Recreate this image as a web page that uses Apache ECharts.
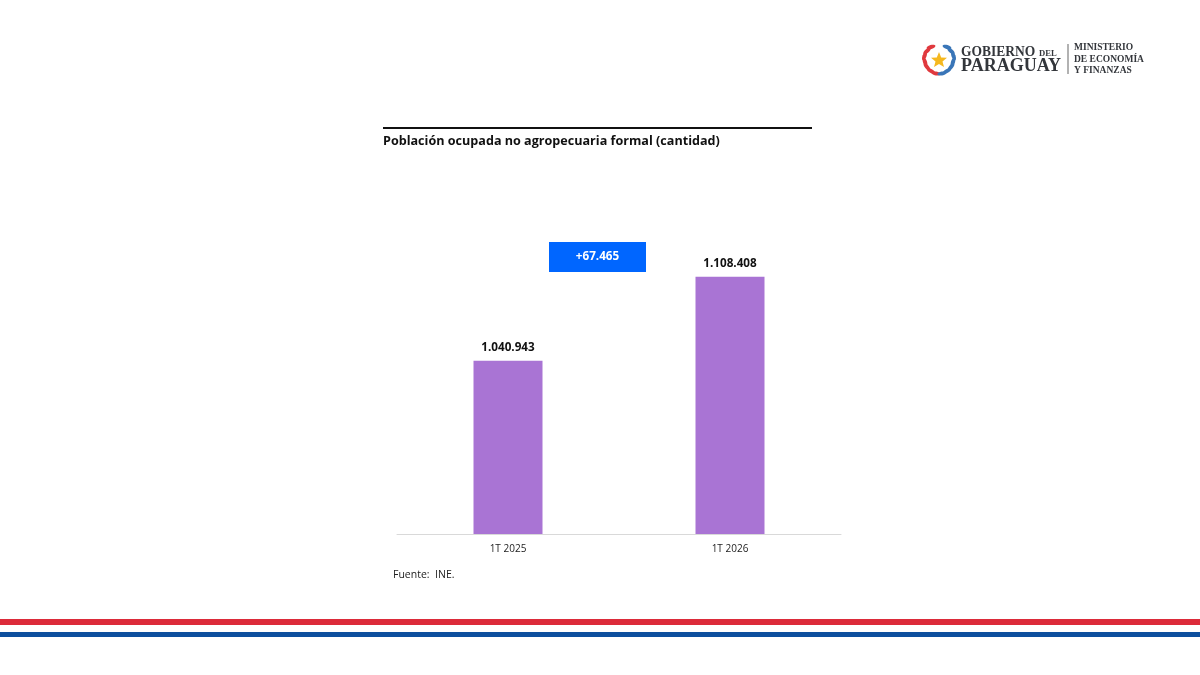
<!DOCTYPE html>
<html><head><meta charset="utf-8">
<style>html,body{margin:0;padding:0;background:#fff}#c{width:1200px;height:675px}</style>
<script src="https://cdn.jsdelivr.net/npm/echarts@6/dist/echarts.min.js"></script>
</head><body><div id="c"></div>
<script>
const categories = ['1T 2025', '1T 2026'];
const values = [1040943, 1108408];
const valueLabels = ['1.040.943', '1.108.408'];
const titleText = 'Población ocupada no agropecuaria formal (cantidad)';
const sourceText = 'Fuente:  INE.';
const deltaText = '+67.465';

const fmt = 'Open Sans';
const chart = echarts.init(document.getElementById('c'), null, {renderer: 'canvas'});

function leaf(cx, cy, rot, fill) {
  return {type: 'ellipse', shape: {cx: 0, cy: 0, rx: 4.6, ry: 2}, x: cx, y: cy, rotation: rot, style: {fill}, silent: true};
}
function logoText(text, x, y, font, scaleX) {
  return {type: 'text', x, y, scaleX: scaleX || 1, style: {text, fill: '#33363b', font, textVerticalAlign: 'middle'}, silent: true};
}
const leavesLeft = [[931,47,0.3],[927,51,0.7],[924.5,56,1.2],[925,62,1.9],[927,67,2.3],[931,71,2.7],[936,73.5,3.0]];
const leavesRight = [[947,47,-0.3],[951,51,-0.7],[953.5,56,-1.2],[953,62,-1.9],[951,67,-2.3],[947,71,-2.7],[942,73.5,-3.0]];

chart.setOption({
  animation: false,
  backgroundColor: '#ffffff',
  grid: {left: 397, top: 200, width: 444, height: 334, containLabel: false},
  xAxis: {
    type: 'category', data: categories,
    axisTick: {show: false},
    axisLine: {lineStyle: {color: '#d9d9d9', width: 1}},
    axisLabel: {color: '#222', fontFamily: fmt, fontSize: 10, margin: 10}
  },
  yAxis: {type: 'value', min: 902000, max: 1170000, show: false, splitLine: {show: false}},
  series: [{
    type: 'bar', data: values, barWidth: 69,
    itemStyle: {color: '#a974d4'},
    label: {
      show: true, position: 'top', distance: 7,
      color: '#111', fontFamily: fmt, fontWeight: 'bold', fontSize: 11.7,
      formatter: p => valueLabels[p.dataIndex]
    }
  }],
  graphic: [
    {type: 'rect', shape: {x: 383, y: 127, width: 429, height: 2}, style: {fill: '#111'}, silent: true},
    {type: 'text', x: 383, y: 141, style: {text: titleText, fill: '#111', font: 'bold 12.6px "Open Sans"', textVerticalAlign: 'middle'}, silent: true},
    {type: 'rect', shape: {x: 549, y: 242, width: 97, height: 30}, style: {fill: '#0066ff'}, silent: true},
    {type: 'text', x: 597.5, y: 257, style: {text: deltaText, fill: '#fff', font: 'bold 11.7px "Open Sans"', textAlign: 'center', textVerticalAlign: 'middle'}, silent: true},
    {type: 'text', x: 393, y: 570, style: {text: sourceText, fill: '#222', font: '10.5px "Open Sans"'}, silent: true},
    {type: 'rect', shape: {x: 0, y: 619, width: 1200, height: 6}, style: {fill: '#dc2b3a'}, silent: true},
    {type: 'rect', shape: {x: 0, y: 632, width: 1200, height: 5}, style: {fill: '#0d4f9e'}, silent: true},
    ...leavesLeft.map(l => leaf(l[0], l[1], l[2], '#e0393e')),
    ...leavesRight.map(l => leaf(l[0], l[1], l[2], '#3a76b8')),
    {type: 'polygon', shape: {points: [[939,52],[941.2,57.5],[947,57.8],[942.5,61.5],[944,67],[939,64],[934,67],[935.5,61.5],[931,57.8],[936.8,57.5]]}, style: {fill: '#f5b81f'}, silent: true},
    logoText('GOBIERNO', 961, 52.5, 'bold 15px "Liberation Serif"', 0.9),
    logoText('DEL', 1039, 54, 'bold 7.5px "Liberation Serif"', 1.15),
    logoText('PARAGUAY', 961, 66.5, 'bold 18px "Liberation Serif"', 1),
    {type: 'rect', shape: {x: 1067.5, y: 44, width: 1, height: 30}, style: {fill: '#666'}, silent: true},
    logoText('MINISTERIO', 1074, 48, 'bold 9.5px "Liberation Serif"', 1),
    logoText('DE ECONOMÍA', 1074, 59.5, 'bold 9.5px "Liberation Serif"', 1),
    logoText('Y FINANZAS', 1074, 71, 'bold 9.5px "Liberation Serif"', 1)
  ]
});
</script></body></html>
